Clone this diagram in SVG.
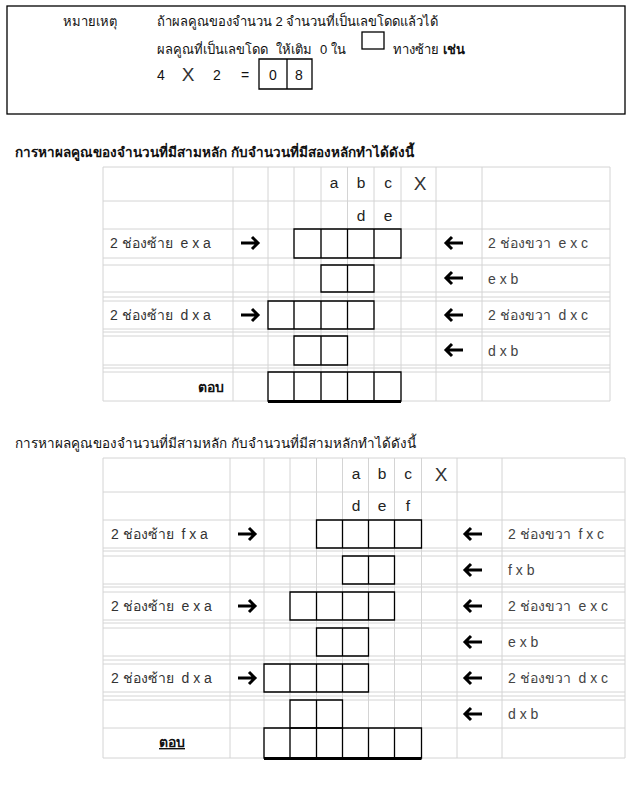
<svg xmlns="http://www.w3.org/2000/svg" xmlns:xlink="http://www.w3.org/1999/xlink" width="644" height="790" viewBox="0 0 644 790">
<style>
text{font-family:"Liberation Sans","Noto Sans","DejaVu Sans",sans-serif;font-size:14px;fill:#222;white-space:pre}
.th{font-size:13px;fill:#111}
.dg{font-size:14px;fill:#111}
.lb{font-size:14px;fill:#333}
.rb{font-size:14px;fill:#444}
.hd{font-size:15.5px;fill:#222;text-anchor:middle}
.x{font-size:19px;fill:#333;text-anchor:middle}
.b{font-weight:bold}
.grid{stroke:#d4d4d4;stroke-width:1;fill:none}
.bx{stroke:#000;stroke-width:1.3;fill:none}
.thick{stroke:#000;stroke-width:3;fill:none}
</style>
<defs>
<path id="ar" d="M-9,0 H8 M2,-6 L8,0 L2,6" stroke="#000" stroke-width="3" fill="none"/>
<path id="al" d="M9,0 H-8 M-2,-6 L-8,0 L-2,6" stroke="#000" stroke-width="3" fill="none"/>
</defs>
<rect width="644" height="790" fill="#fff"/>

<g id="note">
<rect x="7" y="6" width="618" height="108" fill="none" stroke="#000" stroke-width="1.3"/>
<text x="63" y="26" class="th">หมายเหตุ</text>
<text x="157" y="26" class="th">ถ้าผลคูณของจำนวน 2 จำนวนที่เป็นเลขโดดแล้วได้</text>
<text x="157" y="54" class="th">ผลคูณที่เป็นเลขโดด</text>
<text x="276" y="54" class="th">ให้เติม</text>
<text x="320" y="54" class="th">0 ใน</text>
<rect x="362" y="32" width="22" height="17" fill="none" stroke="#000" stroke-width="1.3"/>
<text x="393" y="54" class="th">ทางซ้าย <tspan class="b">เช่น</tspan></text>
<text x="157" y="80" class="dg">4</text>
<text x="188" y="81" class="x">X</text>
<text x="213" y="80" class="dg">2</text>
<text x="241" y="80" class="dg">=</text>
<path class="bx" d="M259,59 H312 V89 H259 Z M287,59 V89"/>
<text x="273" y="80" class="dg" text-anchor="middle">0</text>
<text x="299" y="80" class="dg" text-anchor="middle">8</text>
</g>

<g id="table1">
<text x="15" y="157" class="b" style="font-size:13.5px;fill:#111">การหาผลคูณของจำนวนที่มีสามหลัก กับจำนวนที่มีสองหลักทำได้ดังนี้</text>
<path class="grid" d="M103,167H610 M103,201H610 M103,229H610 M103,258H610 M103,265H610 M103,292H610 M103,297H610 M103,301H610 M103,329H610 M103,332H610 M103,336H610 M103,365H610 M103,368H610 M103,372H610 M103,401H610
M103,167V401 M233,167V401 M268,167V401 M294,167V401 M321,167V401 M347.5,167V401 M374,167V401 M401,167V401 M436,167V401 M482,167V401 M610,167V401"/>
<text x="334" y="188" class="hd">a</text>
<text x="361" y="188" class="hd">b</text>
<text x="388" y="188" class="hd">c</text>
<text x="420" y="190" class="x">X</text>
<text x="361" y="221" class="hd">d</text>
<text x="388" y="221" class="hd">e</text>
<g id="t1r1">
<text x="110" y="248" class="lb">2 ช่องซ้าย  e x a</text>
<use xlink:href="#ar" x="250" y="243"/>
<path class="bx" d="M294,229H401V258H294Z M321,229V258 M347.5,229V258 M374,229V258"/>
<use xlink:href="#al" x="454" y="243"/>
<text x="488" y="248" class="rb">2 ช่องขวา  e x c</text>
</g>
<g id="t1r2">
<path class="bx" d="M321,265H374V292H321Z M347.5,265V292"/>
<use xlink:href="#al" x="454" y="278"/>
<text x="488" y="284" class="rb">e x b</text>
</g>
<g id="t1r3">
<text x="110" y="320" class="lb">2 ช่องซ้าย  d x a</text>
<use xlink:href="#ar" x="250" y="315"/>
<path class="bx" d="M268,301H374V329H268Z M294,301V329 M321,301V329 M347.5,301V329"/>
<use xlink:href="#al" x="454" y="315"/>
<text x="488" y="320" class="rb">2 ช่องขวา  d x c</text>
</g>
<g id="t1r4">
<path class="bx" d="M294,336H347.5V365H294Z M321,336V365"/>
<use xlink:href="#al" x="454" y="350"/>
<text x="488" y="356" class="rb">d x b</text>
</g>
<g id="t1ans">
<text x="224" y="392" class="b" text-anchor="end" style="fill:#111">ตอบ</text>
<path class="bx" d="M268,372H401V401H268Z M294,372V401 M321,372V401 M347.5,372V401 M374,372V401"/>
<path class="thick" d="M268,401.5H401"/>
</g>
</g>

<g id="table2">
<text x="15" y="448" style="font-size:13.5px;fill:#111">การหาผลคูณของจำนวนที่มีสามหลัก กับจำนวนที่มีสามหลักทำได้ดังนี้</text>
<path class="grid" d="M103,458H625 M103,492H625 M103,520H625 M103,548H625 M103,551H625 M103,556H625 M103,584H625 M103,587H625 M103,592H625 M103,620H625 M103,623H625 M103,628H625 M103,656H625 M103,660H625 M103,664H625 M103,692H625 M103,696H625 M103,700H625 M103,728H625 M103,758H625
M103,458V758 M230,458V758 M264,458V758 M290,458V758 M316.5,458V758 M342.5,458V758 M368.5,458V758 M394.5,458V758 M421.5,458V758 M457,458V758 M502,458V758 M625,458V758"/>
<text x="356" y="479" class="hd">a</text>
<text x="382" y="479" class="hd">b</text>
<text x="408" y="479" class="hd">c</text>
<text x="441" y="481" class="x">X</text>
<text x="356" y="511" class="hd">d</text>
<text x="382" y="511" class="hd">e</text>
<text x="408" y="511" class="hd">f</text>
<g id="t2r1">
<text x="111" y="539" class="lb">2 ช่องซ้าย  f x a</text>
<use xlink:href="#ar" x="247" y="534"/>
<path class="bx" d="M316.5,520H421.5V548H316.5Z M342.5,520V548 M368.5,520V548 M394.5,520V548"/>
<use xlink:href="#al" x="473" y="534"/>
<text x="508" y="539" class="rb">2 ช่องขวา  f x c</text>
</g>
<g id="t2r2">
<path class="bx" d="M342.5,556H394.5V584H342.5Z M368.5,556V584"/>
<use xlink:href="#al" x="473" y="570"/>
<text x="508" y="575" class="rb">f x b</text>
</g>
<g id="t2r3">
<text x="111" y="611" class="lb">2 ช่องซ้าย  e x a</text>
<use xlink:href="#ar" x="247" y="606"/>
<path class="bx" d="M290,592H394.5V620H290Z M316.5,592V620 M342.5,592V620 M368.5,592V620"/>
<use xlink:href="#al" x="473" y="606"/>
<text x="508" y="611" class="rb">2 ช่องขวา  e x c</text>
</g>
<g id="t2r4">
<path class="bx" d="M316.5,628H368.5V656H316.5Z M342.5,628V656"/>
<use xlink:href="#al" x="473" y="642"/>
<text x="508" y="647" class="rb">e x b</text>
</g>
<g id="t2r5">
<text x="111" y="683" class="lb">2 ช่องซ้าย  d x a</text>
<use xlink:href="#ar" x="247" y="678"/>
<path class="bx" d="M264,664H368.5V692H264Z M290,664V692 M316.5,664V692 M342.5,664V692"/>
<use xlink:href="#al" x="473" y="678"/>
<text x="508" y="683" class="rb">2 ช่องขวา  d x c</text>
</g>
<g id="t2r6">
<path class="bx" d="M290,700H342.5V728H290Z M316.5,700V728"/>
<use xlink:href="#al" x="473" y="714"/>
<text x="508" y="719" class="rb">d x b</text>
</g>
<g id="t2ans">
<text x="172" y="747" class="b" text-anchor="middle" style="fill:#111;text-decoration:underline">ตอบ</text>
<path class="bx" d="M264,728H421.5V758H264Z M290,728V758 M316.5,728V758 M342.5,728V758 M368.5,728V758 M394.5,728V758"/>
<path class="thick" d="M264,758.5H421.5"/>
</g>
</g>
</svg>
